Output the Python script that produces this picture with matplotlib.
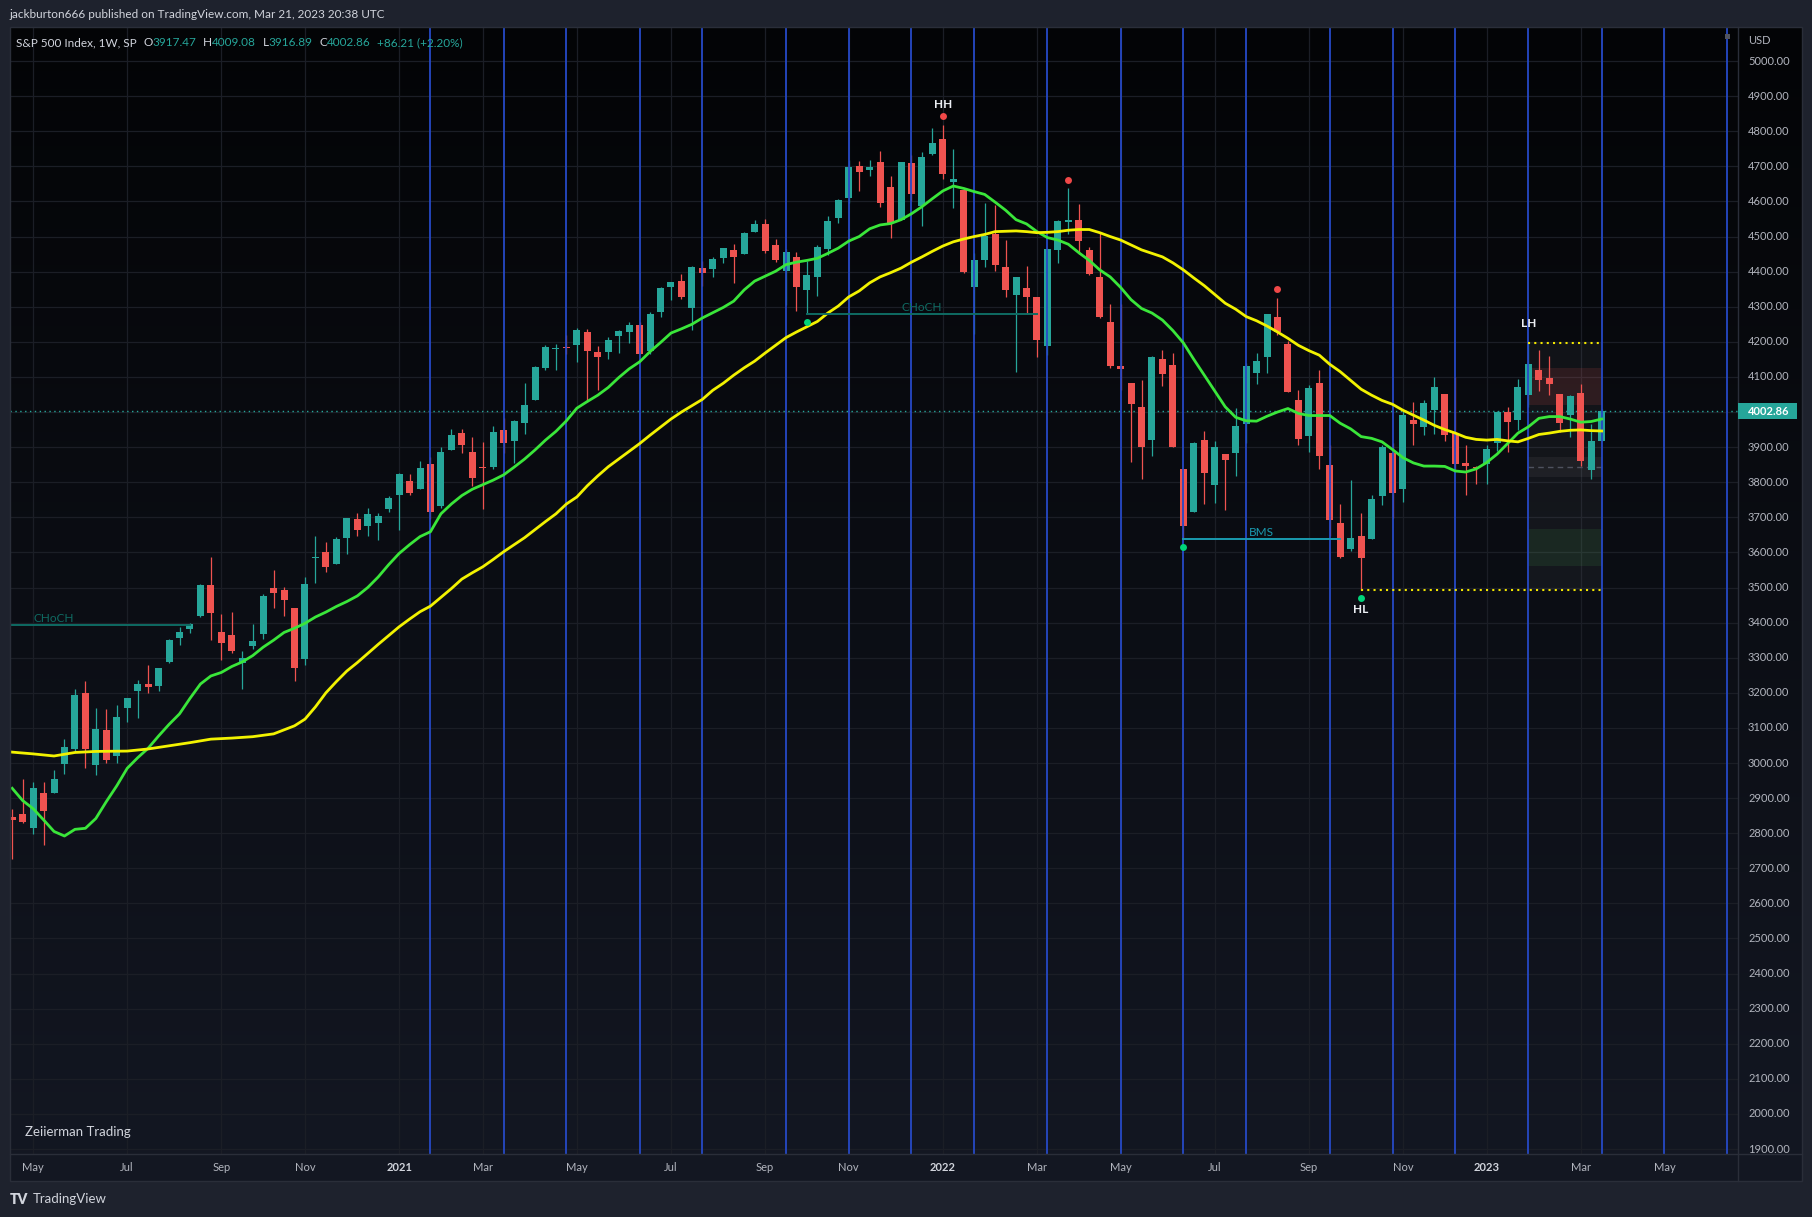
import numpy as np
import pandas as pd
import matplotlib
matplotlib.use('Agg')
import matplotlib.pyplot as plt
from matplotlib.patches import Rectangle
from matplotlib import transforms as mtrans

plt.rcParams['font.family'] = ['Lato', 'DejaVu Sans']

# ---------------- data: S&P 500 weekly bars (Monday dated) ----------------
first_bar = '2020-04-20'

opens_2020 = [2845.6, 2854.7, 2815.0, 2915.5, 2913.9, 2997.0, 3038.8, 3199.9, 2993.8, 3094.4, 3018.6, 3155.3, 3205.1,
              3224.3, 3219.8, 3288.3, 3356.0, 3380.9, 3418.1, 3507.4, 3371.9, 3363.6, 3285.6, 3333.9, 3367.3, 3500.0,
              3493.5, 3441.4, 3296.2, 3583.0, 3600.2, 3566.8, 3641.6, 3694.7, 3675.3, 3684.3, 3723.0]
highs_2020 = [2869.1, 2954.9, 2945.0, 2945.0, 2980.3, 3068.7, 3211.7, 3233.1, 3155.5, 3155.0, 3165.8, 3186.0, 3235.3,
              3279.3, 3272.0, 3352.0, 3387.9, 3399.5, 3509.2, 3588.1, 3425.6, 3428.9, 3320.3, 3397.2, 3482.0, 3549.9,
              3502.4, 3441.4, 3529.0, 3646.0, 3628.5, 3644.3, 3699.2, 3712.4, 3726.7, 3711.2, 3760.2]
lows_2020 = [2727.1, 2830.0, 2797.9, 2766.6, 2913.9, 2969.8, 3031.5, 2984.5, 2965.7, 2999.5, 3000.0, 3115.7, 3127.7,
             3200.8, 3204.0, 3284.5, 3335.7, 3369.7, 3414.9, 3349.6, 3293.6, 3313.0, 3209.5, 3323.7, 3354.0, 3442.0,
             3419.9, 3233.9, 3279.7, 3511.9, 3543.8, 3566.8, 3594.4, 3645.8, 3645.8, 3636.5, 3715.9]
closes_2020 = [2836.7, 2830.7, 2929.8, 2863.7, 2955.5, 3044.3, 3193.9, 3041.3, 3097.7, 3009.1, 3130.0, 3185.0, 3224.7,
               3215.6, 3271.1, 3351.3, 3372.9, 3397.2, 3508.0, 3427.0, 3341.0, 3319.5, 3298.5, 3348.4, 3477.1, 3483.8,
               3465.4, 3270.0, 3509.4, 3585.2, 3557.5, 3638.4, 3699.1, 3663.5, 3709.4, 3703.1, 3756.1]

opens_2021 = [3764.6, 3803.1, 3781.9, 3851.7, 3731.2, 3892.6, 3939.6, 3885.6, 3842.5, 3844.4, 3949.6, 3916.5, 3969.3,
              4034.4, 4124.7, 4179.8, 4185.0, 4192.0, 4228.3, 4169.9, 4170.2, 4216.5, 4229.3, 4248.9, 4173.4, 4284.9,
              4356.5, 4372.4, 4296.4, 4409.6, 4406.9, 4437.8, 4461.7, 4450.3, 4513.8, 4535.4, 4474.8, 4402.9, 4442.1,
              4348.8, 4385.4, 4463.7, 4553.7, 4610.6, 4701.5, 4689.3, 4712.0, 4640.2, 4548.4, 4710.3, 4587.9, 4734.0]
highs_2021 = [3826.7, 3823.6, 3861.4, 3870.9, 3900.0, 3950.4, 3950.4, 3928.6, 3914.5, 3960.3, 3983.9, 3978.2, 4083.4,
              4131.8, 4191.3, 4194.2, 4218.8, 4238.0, 4236.4, 4186.7, 4213.4, 4233.9, 4255.6, 4257.2, 4286.1, 4356.5,
              4371.6, 4393.7, 4415.2, 4430.0, 4440.8, 4468.0, 4480.0, 4513.3, 4545.9, 4549.8, 4492.8, 4465.4, 4457.3,
              4430.0, 4475.8, 4559.7, 4608.1, 4718.5, 4714.9, 4717.8, 4743.8, 4673.0, 4713.6, 4732.0, 4740.7, 4808.9]
lows_2021 = [3662.7, 3764.0, 3781.3, 3694.1, 3725.6, 3890.8, 3884.0, 3789.0, 3723.3, 3839.0, 3884.0, 3853.5, 3937.9,
             4034.4, 4118.4, 4118.8, 4164.0, 4142.0, 4029.0, 4061.4, 4150.4, 4167.6, 4198.0, 4164.4, 4164.7, 4271.0,
             4320.5, 4321.4, 4233.1, 4360.0, 4385.8, 4424.7, 4367.7, 4450.0, 4513.0, 4453.7, 4427.8, 4305.9, 4288.5,
             4278.9, 4329.9, 4447.5, 4537.4, 4595.1, 4630.9, 4672.8, 4585.4, 4495.1, 4548.4, 4600.2, 4531.1, 4733.0]
closes_2021 = [3824.7, 3768.3, 3841.5, 3714.2, 3886.8, 3934.8, 3906.7, 3811.2, 3841.9, 3943.3, 3913.1, 3974.5, 4019.9,
               4128.8, 4185.5, 4180.2, 4181.2, 4232.6, 4173.9, 4155.9, 4204.1, 4229.9, 4247.4, 4166.5, 4280.7, 4352.3,
               4369.6, 4327.2, 4411.8, 4395.3, 4436.5, 4468.0, 4441.7, 4509.4, 4535.4, 4458.6, 4433.0, 4455.5, 4357.0,
               4391.3, 4471.4, 4544.9, 4605.4, 4697.5, 4682.9, 4698.0, 4594.6, 4538.4, 4712.0, 4620.6, 4725.8, 4766.2]

opens_2022 = [4778.1, 4655.3, 4632.2, 4356.3, 4431.8, 4505.8, 4412.6, 4332.7, 4354.2, 4327.0, 4188.8, 4462.4, 4541.1,
              4548.0, 4462.6, 4385.6, 4255.3, 4130.6, 4081.3, 4013.0, 3919.4, 4151.1, 4134.7, 3838.2, 3715.3, 3920.8,
              3792.6, 3880.9, 3883.8, 3965.7, 4112.4, 4155.9, 4269.4, 4195.1, 4034.6, 3930.9, 4083.7, 3849.9, 3682.7,
              3609.8, 3647.5, 3638.7, 3762.0, 3881.9, 3780.7, 3977.0, 3956.2, 4005.4, 4052.0, 3939.3, 3853.8, 3843.3]
highs_2022 = [4818.6, 4748.8, 4632.2, 4453.2, 4595.3, 4590.0, 4489.6, 4385.0, 4416.8, 4327.0, 4465.4, 4546.0, 4637.3,
              4593.5, 4471.0, 4512.9, 4308.5, 4307.7, 4081.3, 4090.7, 4158.5, 4177.5, 4168.8, 3838.2, 3913.7, 3945.9,
              3918.5, 3880.9, 4012.4, 4140.2, 4167.7, 4280.5, 4325.3, 4203.0, 4063.0, 4076.8, 4119.3, 3907.1, 3736.7,
              3806.9, 3712.0, 3762.8, 3905.4, 3911.8, 4001.5, 4028.8, 4034.0, 4100.5, 4052.0, 4101.0, 3905.6, 3846.7]
lows_2022 = [4662.7, 4582.2, 4395.3, 4222.6, 4414.0, 4401.4, 4327.2, 4114.7, 4279.5, 4157.9, 4161.7, 4424.3, 4507.6,
             4450.0, 4390.9, 4267.6, 4124.3, 4062.5, 3858.9, 3810.3, 3875.1, 4073.9, 3900.2, 3636.9, 3715.3, 3738.7,
             3742.1, 3721.6, 3818.6, 3910.7, 4079.8, 4112.1, 4218.7, 4057.7, 3906.2, 3886.8, 3837.1, 3647.5, 3584.1,
             3605.0, 3491.6, 3638.7, 3733.9, 3698.8, 3743.5, 3906.5, 3933.4, 3937.2, 3918.4, 3827.9, 3764.5, 3795.4]
closes_2022 = [4677.0, 4662.9, 4397.9, 4431.9, 4500.5, 4418.6, 4348.9, 4384.7, 4328.9, 4204.3, 4463.1, 4543.1, 4545.9,
               4488.3, 4392.6, 4271.8, 4131.9, 4123.3, 4023.9, 3901.4, 4158.2, 4108.5, 3900.9, 3674.8, 3911.7, 3825.3,
               3899.4, 3863.2, 3961.6, 4130.3, 4145.2, 4280.2, 4228.5, 4057.7, 3924.3, 4067.4, 3873.3, 3693.2, 3585.6,
               3639.7, 3583.1, 3752.8, 3901.1, 3770.6, 3992.9, 3965.3, 4026.1, 4071.7, 3934.4, 3852.4, 3844.8, 3839.5]

opens_2023 = [3853.3, 3910.8, 3999.3, 3978.1, 4049.3, 4119.6, 4096.6, 4052.4, 3992.4, 4055.2, 3835.1, 3917.47]
highs_2023 = [3906.0, 4004.0, 4015.4, 4094.2, 4195.4, 4176.5, 4159.8, 4052.4, 4048.3, 4078.5, 3964.5, 4009.08]
lows_2023 = [3794.3, 3887.6, 3885.5, 3949.1, 4015.6, 4060.8, 4047.3, 3943.1, 3928.2, 3846.3, 3808.9, 3916.89]
closes_2023 = [3895.1, 3999.1, 3972.6, 4070.6, 4136.5, 4090.5, 4079.1, 3970.0, 4045.6, 3861.6, 3916.65, 4002.86]

opens = np.array(opens_2020 + opens_2021 + opens_2022 + opens_2023)
highs = np.array(highs_2020 + highs_2021 + highs_2022 + highs_2023)
lows = np.array(lows_2020 + lows_2021 + lows_2022 + lows_2023)
closes = np.array(closes_2020 + closes_2021 + closes_2022 + closes_2023)

# moving averages (value per bar index)
green_ma = [2928, 2893, 2870, 2838, 2805, 2792, 2811, 2814, 2842, 2890,
            2935, 2985, 3015, 3042, 3077, 3110, 3140, 3184, 3225, 3248,
            3258, 3275, 3288, 3306, 3330, 3350, 3372, 3384, 3398, 3416,
            3430, 3446, 3460, 3476, 3500, 3530, 3565, 3597, 3622, 3645,
            3659, 3710, 3738, 3762, 3780, 3793, 3806, 3821, 3843, 3866,
            3892, 3920, 3945, 3975, 4011, 4030, 4048, 4070, 4098, 4123,
            4143, 4172, 4198, 4225, 4237, 4250, 4268, 4283, 4298, 4316,
            4348, 4373, 4387, 4401, 4420, 4427, 4432, 4438, 4452, 4467,
            4487, 4500, 4522, 4533, 4537, 4548, 4565, 4585, 4608, 4630,
            4644, 4637, 4628, 4620, 4598, 4575, 4548, 4536, 4514, 4497,
            4490, 4478, 4454, 4432, 4405, 4385, 4355, 4320, 4295, 4282,
            4262, 4232, 4197, 4150, 4105, 4060, 4015, 3985, 3975, 3974,
            3988, 4000, 4010, 3996, 3990, 3990, 3990, 3968, 3952, 3930,
            3925, 3915, 3893, 3870, 3855, 3846, 3846, 3845, 3832, 3829,
            3838, 3856, 3880, 3910, 3940, 3958, 3982, 3987, 3987, 3980,
            3971, 3973, 3980]
yellow_ma_bars = [0, 2, 4, 6, 8, 11, 13, 17, 19, 21, 23, 25] + list(range(27, 153))
yellow_ma = [3031, 3026, 3020, 3030, 3033, 3034, 3040, 3058, 3068, 3071, 3075, 3083,
             3106, 3125, 3160, 3200, 3232, 3262, 3286, 3312, 3338, 3363, 3388, 3410, 3431,
             3447, 3472, 3497, 3524, 3542, 3559, 3580, 3602, 3622, 3642,
             3665, 3688, 3710, 3738, 3758, 3790, 3818, 3844, 3866, 3888,
             3910, 3934, 3957, 3980, 4000, 4018, 4036, 4062, 4082, 4105,
             4126, 4145, 4168, 4190, 4212, 4228, 4243, 4258, 4282, 4302,
             4328, 4345, 4368, 4385, 4397, 4410, 4427, 4442, 4458, 4473,
             4485, 4493, 4500, 4506, 4514, 4515, 4516, 4514, 4511, 4512,
             4514, 4518, 4520, 4520, 4511, 4500, 4490, 4476, 4462, 4452,
             4442, 4425, 4405, 4382, 4360, 4335, 4310, 4293, 4272, 4260,
             4245, 4228, 4210, 4190, 4175, 4162, 4136, 4115, 4090, 4065,
             4048, 4033, 4022, 4005, 3991, 3977, 3962, 3950, 3940, 3928,
             3922, 3920, 3922, 3918, 3915, 3925, 3936, 3940, 3945, 3948,
             3949, 3947, 3946]

fomc_dates = ['2021-01-27', '2021-03-17', '2021-04-28', '2021-06-16', '2021-07-28', '2021-09-22', '2021-11-03',
              '2021-12-15', '2022-01-26', '2022-03-16', '2022-05-04', '2022-06-15', '2022-07-27', '2022-09-21',
              '2022-11-02', '2022-12-14', '2023-02-01', '2023-03-22', '2023-05-03', '2023-06-14']

month_tick_dates = ['2020-05-04', '2020-07-06', '2020-09-07', '2020-11-02', '2021-01-04', '2021-03-01', '2021-05-03',
                    '2021-07-05', '2021-09-06', '2021-11-01', '2022-01-03', '2022-03-07', '2022-05-02', '2022-07-04',
                    '2022-09-05', '2022-11-07', '2023-01-02', '2023-03-06', '2023-05-01']
month_tick_labels = ['May', 'Jul', 'Sep', 'Nov', '2021', 'Mar', 'May', 'Jul', 'Sep', 'Nov', '2022', 'Mar', 'May',
                     'Jul', 'Sep', 'Nov', '2023', 'Mar', 'May']
price_ticks = list(range(1900, 5001, 100))

swing_high_bars = [89, 101, 121]
swing_low_bars = [76, 112, 129]
hh_bar, lh_bar, hl_bar = 89, 145, 129
# structure breaks: (start date, level, end date, label)
structure_lines = [('2020-02-17', 3393.5, '2020-08-17', 'CHoCH'),
                   ('2021-10-04', 4278.9, '2022-03-07', 'CHoCH'),
                   ('2022-06-13', 3636.9, '2022-09-26', 'BMS')]

header_title = 'jackburton666 published on TradingView.com, Mar 21, 2023 20:38 UTC'
symbol_text = 'S&P 500 Index, 1W, SP'

# ---------------- helpers ----------------
t0 = pd.Timestamp(first_bar)
def bar_of(d):
    return (pd.Timestamp(d) - t0).days // 7

n = len(closes)
idx = np.arange(n)

TEAL = '#26a69a'
RED = '#ef5350'
W, H = 1812, 1217
def fx(px): return px / W
def fy(py): return 1 - py / H

fig = plt.figure(figsize=(W / 100, H / 100), dpi=100)
fig.patch.set_facecolor('#1e222d')

# gradient background (plot + price scale)
bg = fig.add_axes([fx(10), fy(1154), (1802 - 10) / W, (1154 - 27) / H])
g = np.linspace(0, 1, 256).reshape(-1, 1, 1)
top = np.array([3, 4, 6]) / 255
bot = np.array([19, 23, 34]) / 255
img = top * (1 - g) + bot * g
bg.imshow(img, aspect='auto', extent=[0, 1, 0, 1], origin='upper')
bg.set_axis_off()

# time axis panel (drawn beneath everything)
fig.patches.append(Rectangle((fx(10), fy(1181)), (1802 - 10) / W, 27 / H, transform=fig.transFigure,
                             facecolor='#131722', edgecolor='none', zorder=-2))

ax = fig.add_axes([fx(10), fy(1154), 1728 / W, 1127 / H])
ax.set_facecolor('none')
ax.set_xlim(-0.21, 165.04)
ax.set_ylim(1886, 5097)
for s in ax.spines.values():
    s.set_visible(False)
ax.set_xticks([])
ax.set_yticks([])

month_bars = [bar_of(d) for d in month_tick_dates]
# grid
ax.hlines(price_ticks, -0.21, 165.04, colors='#1b1e26', lw=0.9, zorder=1)
ax.vlines(month_bars, 1886, 5097, colors='#1b1e26', lw=0.9, zorder=1)

# FOMC vertical lines
for d in fomc_dates:
    ax.axvline(bar_of(d), color='#2649c6', lw=1.3, zorder=4.5)

# candles
up = closes >= opens
cols = np.where(up, TEAL, RED)
ax.vlines(idx, lows, highs, colors=cols, lw=0.9, zorder=3)
body_lo = np.minimum(opens, closes)
body_h = np.maximum(np.abs(closes - opens), 2.8)
ax.bar(idx, body_h, bottom=body_lo, width=0.67, color=cols, linewidth=0, zorder=4)

# moving averages
ax.plot(idx, green_ma, color='#3ae63a', lw=2.0, zorder=5, solid_joinstyle='round')
ax.plot(yellow_ma_bars, yellow_ma, color='#f2f200', lw=2.0, zorder=5, solid_joinstyle='round')

# current price line
last = closes[-1]
ax.axhline(last, color=TEAL, lw=1.0, linestyle=(0, (1, 2.5)), zorder=2)

# structure lines
for sd, lvl, ed, lab in structure_lines:
    b0, b1 = bar_of(sd), bar_of(ed)
    c = '#1a9bb0' if lab == 'BMS' else '#0f6b63'
    ax.plot([b0, b1], [lvl, lvl], color=c, lw=1.4, zorder=5, clip_on=True)
    ax.annotate(lab, ((b0 + b1) / 2, lvl), xytext=(0, 1), textcoords='offset points', ha='center', va='bottom',
                color=c, fontsize=8.5, zorder=6, annotation_clip=False)

# swing dots
up_off = mtrans.ScaledTranslation(0, 8.5 / 100, fig.dpi_scale_trans)
dn_off = mtrans.ScaledTranslation(0, -8.0 / 100, fig.dpi_scale_trans)
for b in swing_high_bars:
    ax.plot(b, highs[b], 'o', color='#f04848', ms=5, mec='none', transform=ax.transData + up_off, zorder=7)
for b in swing_low_bars:
    ax.plot(b, lows[b], 'o', color='#00d47a', ms=5, mec='none', transform=ax.transData + dn_off, zorder=7)

ax.annotate('HH', (hh_bar, highs[hh_bar]), xytext=(0, 14.8), textcoords='offset points', ha='center', va='center',
            color='#eceff4', fontsize=8.5, fontweight='bold', zorder=8)
ax.annotate('LH', (lh_bar, highs[lh_bar]), xytext=(0, 14.7), textcoords='offset points', ha='center', va='center',
            color='#eceff4', fontsize=8.5, fontweight='bold', zorder=8)
ax.annotate('HL', (hl_bar, lows[hl_bar]), xytext=(0, -14.0), textcoords='offset points', ha='center', va='center',
            color='#eceff4', fontsize=8.5, fontweight='bold', zorder=8)

# premium / discount box
last_bar = n - 1
top_lvl = highs[lh_bar]
bot_lvl = lows[hl_bar]
rng = top_lvl - bot_lvl
ax.add_patch(Rectangle((lh_bar, bot_lvl), last_bar - lh_bar, rng, facecolor='white', alpha=0.045, lw=0, zorder=1.5))
ax.add_patch(Rectangle((lh_bar, top_lvl - 0.25 * rng), last_bar - lh_bar, 0.15 * rng, facecolor='#ef5350',
                       alpha=0.13, lw=0, zorder=1.6))
ax.add_patch(Rectangle((lh_bar, bot_lvl + 0.10 * rng), last_bar - lh_bar, 0.15 * rng, facecolor='#4caf50',
                       alpha=0.12, lw=0, zorder=1.6))
mid = (top_lvl + bot_lvl) / 2
ax.add_patch(Rectangle((lh_bar, mid - 0.04 * rng), last_bar - lh_bar, 0.08 * rng, facecolor='white',
                       alpha=0.05, lw=0, zorder=1.6))
ax.plot([lh_bar, last_bar], [mid, mid], color='#4e525e', lw=1.0, linestyle=(0, (4, 3)), zorder=2)
ax.plot([lh_bar, last_bar], [top_lvl, top_lvl], color='#f2e600', lw=1.5, linestyle=(0, (1, 2)),
        dash_capstyle='butt', zorder=6)
ax.plot([hl_bar, last_bar], [bot_lvl, bot_lvl], color='#f2e600', lw=1.5, linestyle=(0, (1, 2)),
        dash_capstyle='butt', zorder=6)

# price scale
ytr = mtrans.blended_transform_factory(ax.transAxes, ax.transData)
for p in price_ticks:
    ax.text(1.0058, p, f'{p:.2f}', transform=ytr, ha='left', va='center', color='#b2b5be', fontsize=8,
            clip_on=False)
fig.text(fx(1748), fy(40), 'USD', ha='left', va='center', color='#b2b5be', fontsize=8)
fig.add_artist(plt.Line2D([fx(1738), fx(1738)], [fy(27), fy(1181)], color='#2a2e39', lw=1))
fig.add_artist(plt.Line2D([fx(10), fx(1802)], [fy(1154), fy(1154)], color='#2a2e39', lw=1))
fig.patches.append(Rectangle((fx(9.5), fy(1181)), (1802 - 9.5) / W, (1181 - 26.5) / H, transform=fig.transFigure,
                             facecolor='none', edgecolor='#2a2e39', lw=1, zorder=10))
fig.patches.append(Rectangle((fx(1725), fy(39)), 5 / W, 5 / H, transform=fig.transFigure,
                             facecolor='#50535e', edgecolor='none', zorder=10))

# current price label box
fig.canvas.draw()
ydisp = ax.transData.transform((0, last))[1]
fig.patches.append(Rectangle((1738 / W, (ydisp - 8) / H), 59 / W, 16 / H, transform=fig.transFigure,
                             facecolor=TEAL, edgecolor='none', zorder=11))
fig.text(fx(1748), ydisp / H, f'{last:.2f}', ha='left', va='center', color='white', fontsize=8,
         fontweight='bold', zorder=12)

# time axis labels
for b, lab in zip(month_bars, month_tick_labels):
    is_year = lab.isdigit()
    xd = ax.transData.transform((b, 3000))[0]
    fig.text(xd / W, fy(1167.5), lab, ha='center', va='center',
             color='#d1d4dc' if is_year else '#b2b5be', fontsize=8, fontweight='bold' if is_year else 'normal',
             zorder=12)

# header texts
fig.text(fx(9), fy(14.5), header_title, ha='left', va='center', color='#d1d4dc', fontsize=8.5)
renderer = fig.canvas.get_renderer()
pieces = [(symbol_text, '#d1d4dc', 7.5),
          ('O', '#d1d4dc', 0), (f'{opens[-1]:.2f}', TEAL, 6.5),
          ('H', '#d1d4dc', 0), (f'{highs[-1]:.2f}', TEAL, 6.5),
          ('L', '#d1d4dc', 0), (f'{lows[-1]:.2f}', TEAL, 6.5),
          ('C', '#d1d4dc', 0), (f'{closes[-1]:.2f}', TEAL, 6.5),
          (f'{closes[-1] - closes[-2]:+.2f} ({(closes[-1] - closes[-2]) / closes[-2] * 100:+.2f}%)', TEAL, 0)]
xpos = 15.5
for txt, c, gap in pieces:
    t = fig.text(fx(xpos), fy(42.5), txt, ha='left', va='center', color=c, fontsize=8.5)
    bb = t.get_window_extent(renderer=renderer)
    xpos += bb.width + gap

# watermark / footer
fig.text(fx(25), fy(1132), 'Zeiierman Trading', ha='left', va='center', color='#d1d4dc', fontsize=9.5)
fig.text(fx(10), fy(1199), 'TV', ha='left', va='center', color='#d1d4dc', fontsize=10, fontweight='heavy')
fig.text(fx(33), fy(1199), 'TradingView', ha='left', va='center', color='#d1d4dc', fontsize=9.5)

fig.savefig('out.png', dpi=100, facecolor=fig.get_facecolor())
